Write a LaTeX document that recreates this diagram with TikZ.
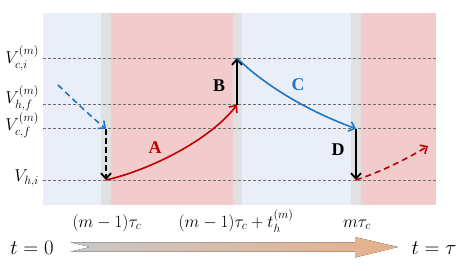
\documentclass[tikz,border=0pt]{standalone}
\usepackage{amsmath}
\usepackage{fontspec}
\newfontfamily\stagefont{Liberation Serif}
\usetikzlibrary{arrows.meta}
\definecolor{coldbg}{HTML}{E9EEF8}
\definecolor{hotbg}{HTML}{F2CBCC}
\definecolor{gapbg}{HTML}{E1E1E1}
\definecolor{coldline}{HTML}{1F77C4}
\definecolor{hotline}{HTML}{C00000}
\definecolor{lvgray}{HTML}{707070}
\definecolor{tgray}{HTML}{C8C8C8}
\definecolor{torange}{HTML}{E8B08A}
\tikzset{vlevel/.style={draw=lvgray,line width=0.8bp,dash pattern=on 3bp off 2bp},
  cold/.style={draw=coldline,line width=1.6bp},
  hot/.style={draw=hotline,line width=1.6bp},
  jump/.style={draw=black,line width=1.8bp},
  vlab/.style={anchor=east,inner sep=0pt,font=\fontsize{17}{20}\selectfont},
  tlab/.style={anchor=base,inner sep=0pt,font=\fontsize{17}{20}\selectfont},
  stage/.style={inner sep=0pt,font=\fontsize{18}{21}\stagefont\bfseries}}

\begin{document}
\begin{tikzpicture}[x=1bp,y=-1bp,>={Straight Barb[length=5.5bp,width=10bp]}]
    \useasboundingbox (0,0) rectangle (463,270);
    % cold / hot stages
    \foreach \xa/\xb/\c in {43/101/coldbg,101/111/gapbg,111/233/hotbg,233/242/gapbg,
      242/351/coldbg,351/361/gapbg,361/436/hotbg}
      \fill[\c] (\xa,13) rectangle (\xb,205);
    % voltage levels
    \foreach \y/\ly/\n/\t in {58/58/ci/{V_{c,i}^{(m)}},104.7/98/hf/{V_{h,f}^{(m)}},
      128.7/125/cf/{V_{c,f}^{(m)}},180/178/hi/{V_{h,i}}}{
      \draw[vlevel] (43,\y) -- (436,\y);
      \node[vlab] (lab\n) at (39,\ly) {$\t$};}
    \coordinate (s0) at (58,85);
    \coordinate (cf1) at (106,128.7);
    \coordinate (hi1) at (106,180);
    \coordinate (hf1) at (237,104.7);
    \coordinate (ci1) at (237,58);
    \coordinate (cf2) at (356,128.7);
    \coordinate (hi2) at (356,180);
    \coordinate (s5) at (428,146);
    \draw[cold,dash pattern=on 6bp off 4bp,->] (s0) .. controls (75,101) and (90,116) .. (cf1);
    \draw[jump,dash pattern=on 6bp off 3bp,->] (cf1) -- (hi1);
    \draw[hot,->] (hi1) .. controls (150,170) and (210,140) .. (hf1);
    \draw[jump,->] (hf1) -- (ci1);
    \draw[cold,->] (ci1) .. controls (265,86) and (310,112) .. (cf2);
    \draw[jump,->] (cf2) -- (hi2);
    \draw[hot,dash pattern=on 6bp off 4bp,->] (hi2) .. controls (380,172) and (405,160) .. (s5);
    \node[stage,text=hotline] (stA) at (155,148) {A};
    \node[stage] (stB) at (219,86) {B};
    \node[stage,text=coldline] (stC) at (298,85) {C};
    \node[stage] (stD) at (338,150) {D};
    % time axis
    \node[tlab] (t1) at (107,227) {$(m-1)\tau_c$};
    \node[tlab] (t2) at (236,227) {$(m-1)\tau_c+t_h^{(m)}$};
    \node[tlab] (t3) at (357,227) {$m\tau_c$};
    \fill[left color=tgray,right color=torange] (70,242.3) -- (355,242.3) -- (355,237)
      -- (398,247) -- (355,257.5) -- (355,251.7) -- (70,251.7) -- (90,247) -- cycle;
    \node[inner sep=0pt,font=\fontsize{20}{24}\selectfont] (tstart) at (32,248) {$t=0$};
    \node[inner sep=0pt,font=\fontsize{20}{24}\selectfont] (tend) at (434,248) {$t=\tau$};
\end{tikzpicture}
\end{document}
